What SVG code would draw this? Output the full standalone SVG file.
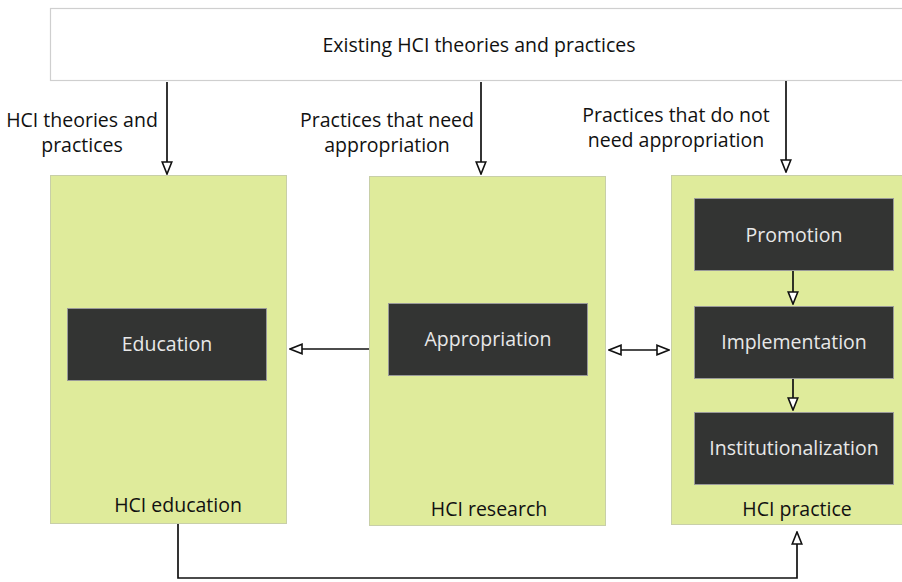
<svg xmlns="http://www.w3.org/2000/svg" width="902" height="582" viewBox="0 0 902 582">
  <defs>
    <style>
      text { font-family: "Open Sans", "Noto Sans", sans-serif; font-size: 19.5px; text-anchor: middle; }
      .lbl { fill: #111111; }
      .inner { fill: #e8e8e8; }
      .panel { fill: #dfeb9b; stroke: #c8cfa8; stroke-width: 1; }
      .step { fill: #333433; stroke: #9a9a9a; stroke-width: 1; }
      .top { fill: #ffffff; stroke: #cfcfcf; stroke-width: 1.2; }
      .conn { fill: none; stroke: #111111; stroke-width: 1.7; }
    </style>
    <marker id="tri" viewBox="0 0 14 12" refX="13" refY="6" markerWidth="14" markerHeight="12" markerUnits="userSpaceOnUse" orient="auto-start-reverse">
      <path d="M1,1.2 L13,6 L1,10.8 Z" fill="#ffffff" stroke="#111111" stroke-width="1.6"/>
    </marker>
  </defs>

  <g id="source">
    <rect class="top" x="50.5" y="8.5" width="860" height="72"/>
    <text class="lbl" x="479" y="52">Existing HCI theories and practices</text>
  </g>

  <g id="hci-education">
    <rect class="panel" x="50.5" y="175.5" width="236" height="348"/>
    <text class="lbl" x="178" y="512">HCI education</text>
  </g>
  <g id="education">
    <rect class="step" x="67.5" y="308.5" width="199" height="72"/>
    <text class="inner" x="167" y="351">Education</text>
  </g>

  <g id="hci-research">
    <rect class="panel" x="369.5" y="176.5" width="236" height="349"/>
    <text class="lbl" x="489" y="516">HCI research</text>
  </g>
  <g id="appropriation">
    <rect class="step" x="388.5" y="303.5" width="199" height="72"/>
    <text class="inner" x="488" y="346">Appropriation</text>
  </g>

  <g id="hci-practice">
    <rect class="panel" x="671.5" y="175.5" width="240" height="349"/>
    <text class="lbl" x="797" y="516">HCI practice</text>
  </g>
  <g id="promotion">
    <rect class="step" x="694.5" y="198.5" width="199" height="72"/>
    <text class="inner" x="794" y="242">Promotion</text>
  </g>
  <g id="implementation">
    <rect class="step" x="694.5" y="306.5" width="199" height="72"/>
    <text class="inner" x="794" y="349">Implementation</text>
  </g>
  <g id="institutionalization">
    <rect class="step" x="694.5" y="412.5" width="199" height="72"/>
    <text class="inner" x="794" y="455">Institutionalization</text>
  </g>

  <g id="connectors">
    <line class="conn" x1="167" y1="82" x2="167" y2="174" marker-end="url(#tri)"/>
    <line class="conn" x1="481" y1="82" x2="481" y2="174" marker-end="url(#tri)"/>
    <line class="conn" x1="786" y1="81" x2="786" y2="172" marker-end="url(#tri)"/>
    <line class="conn" x1="369" y1="349" x2="290" y2="349" marker-end="url(#tri)"/>
    <line class="conn" x1="609" y1="350" x2="669" y2="350" marker-start="url(#tri)" marker-end="url(#tri)"/>
    <line class="conn" x1="793" y1="271" x2="793" y2="304" marker-end="url(#tri)"/>
    <line class="conn" x1="793" y1="379" x2="793" y2="410" marker-end="url(#tri)"/>
    <polyline class="conn" points="178,524 178,578 797,578 797,532" marker-end="url(#tri)"/>
    <text class="lbl" x="82" y="127">HCI theories and</text>
    <text class="lbl" x="82" y="152">practices</text>
    <text class="lbl" x="387" y="127">Practices that need</text>
    <text class="lbl" x="387" y="152">appropriation</text>
    <text class="lbl" x="676" y="122">Practices that do not</text>
    <text class="lbl" x="676" y="147">need appropriation</text>
  </g>
</svg>
